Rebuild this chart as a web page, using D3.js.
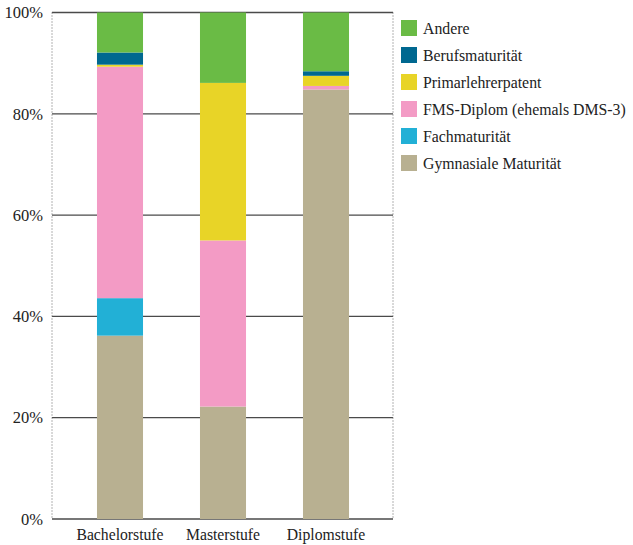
<!DOCTYPE html>
<html><head><meta charset="utf-8">
<script src="https://cdn.jsdelivr.net/npm/d3@7"></script>
<style>body{margin:0;background:#fff;} svg{display:block;}</style>
</head><body>
<script>
const categories = ["Bachelorstufe", "Masterstufe", "Diplomstufe"];
const seriesNames = ["Gymnasiale Maturität", "Fachmaturität", "FMS-Diplom (ehemals DMS-3)", "Primarlehrerpatent", "Berufsmaturität", "Andere"];
const gymnasiale = [36.2, 22.2, 84.8];
const fachmaturitaet = [7.4, 0, 0];
const fmsDiplom = [45.7, 32.8, 0.7];
const primarlehrer = [0.4, 31.1, 2.0];
const berufsmaturitaet = [2.4, 0, 0.9];
const andere = [7.9, 13.9, 11.6];
const yTicks = [0, 20, 40, 60, 80, 100];
const colors = ["#b8b091", "#22b0d6", "#f39bc5", "#e8d427", "#006890", "#6abb45"];

const seriesValues = [gymnasiale, fachmaturitaet, fmsDiplom, primarlehrer, berufsmaturitaet, andere];
const rows = categories.map((c, i) => {
  const r = {cat: c};
  seriesNames.forEach((s, j) => r[s] = seriesValues[j][i]);
  return r;
});

const FONT = "'Liberation Serif', 'DejaVu Serif', 'Times New Roman', serif";
const W = 633, H = 545;
const svg = d3.select("body").append("svg").attr("width", W).attr("height", H)
  .attr("font-family", FONT);
const pLeft = 52, pRight = 393, pTop = 12.5, pBottom = 519;
const y = d3.scaleLinear().domain([0, 100]).range([pBottom, pTop]);
const x = d3.scaleBand().domain(categories).range([68.5, 377.5]).paddingInner(0.553).paddingOuter(0.2765);

// gridlines
svg.append("g").selectAll("line").data(yTicks).join("line")
  .attr("x1", pLeft).attr("x2", pRight)
  .attr("y1", d => y(d)).attr("y2", d => y(d))
  .attr("stroke", "#4a4a4a").attr("stroke-width", 1.3);

// side dotted lines
[pLeft, pRight].forEach(xx => svg.append("line")
  .attr("x1", xx).attr("x2", xx).attr("y1", pTop).attr("y2", pBottom)
  .attr("stroke", "#666").attr("stroke-width", 1).attr("stroke-dasharray", "1,2"));

const stack = d3.stack().keys(seriesNames)(rows);
svg.append("g").selectAll("g").data(stack).join("g")
  .attr("fill", (d, i) => colors[i])
  .selectAll("rect").data(d => d).join("rect")
  .attr("x", d => x(d.data.cat)).attr("width", x.bandwidth())
  .attr("y", d => y(d[1])).attr("height", d => y(d[0]) - y(d[1]));

// y labels
svg.append("g").selectAll("text").data(yTicks).join("text")
  .attr("x", 43).attr("y", d => y(d)).attr("dy", "0.35em")
  .attr("fill", "#222").attr("font-family", FONT)
  .attr("text-anchor", "end").attr("font-size", 16.5).text(d => d + "%");

// x labels
svg.append("g").selectAll("text").data(categories).join("text")
  .attr("x", d => x(d) + x.bandwidth() / 2).attr("y", 540)
  .attr("fill", "#222").attr("font-family", FONT)
  .attr("text-anchor", "middle").attr("font-size", 15.7).text(d => d);

// legend
const legendItems = seriesNames.map((s, i) => ({name: s, color: colors[i]})).reverse();
const lg = svg.append("g").selectAll("g").data(legendItems).join("g")
  .attr("transform", (d, i) => `translate(401,${20 + i * 27})`);
lg.append("rect").attr("width", 16).attr("height", 16).attr("fill", d => d.color);
lg.append("text").attr("x", 22).attr("y", 8).attr("dy", "0.35em")
  .attr("fill", "#222").attr("font-family", FONT)
  .attr("font-size", 15.8).text(d => d.name);
</script>
</body></html>
